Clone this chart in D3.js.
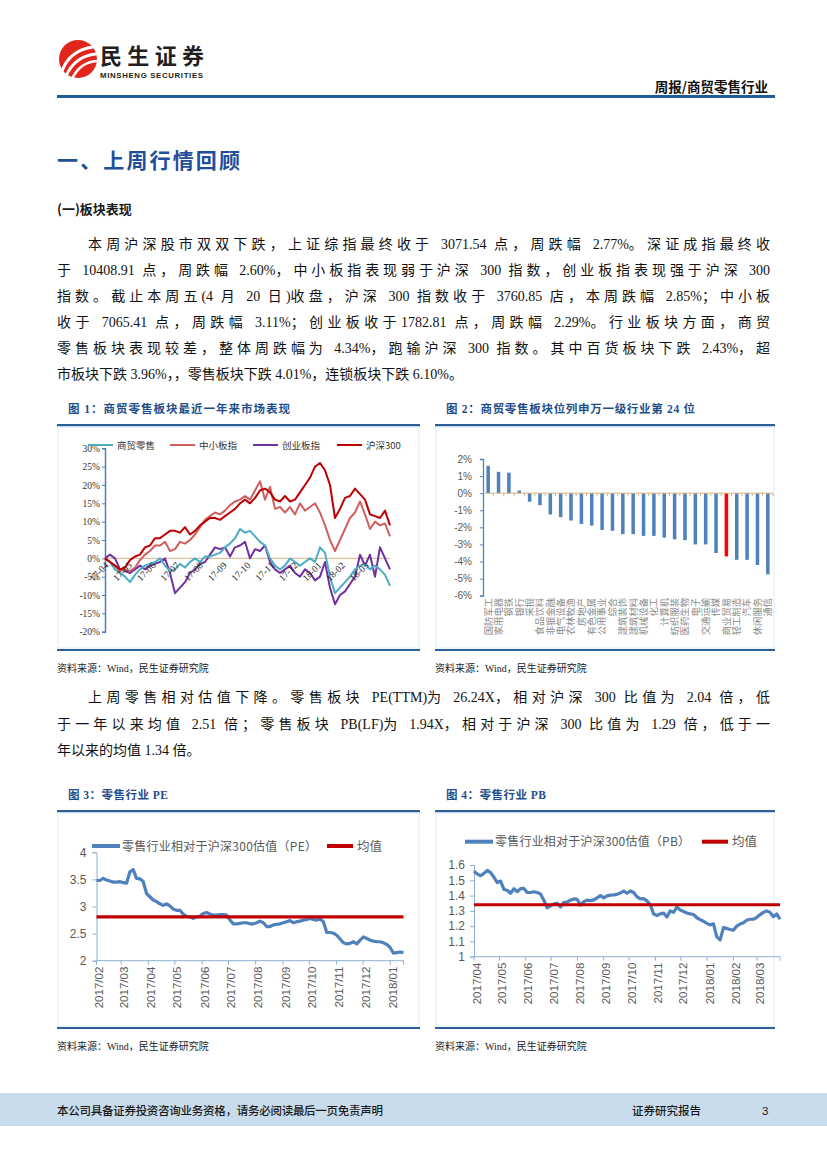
<!DOCTYPE html>
<html><head><meta charset="utf-8">
<script src="https://cdn.jsdelivr.net/npm/d3@7/dist/d3.min.js"></script>
<style>body{margin:0;background:#fff}svg{display:block}</style>
</head><body><svg id="page" width="827" height="1169"></svg>
<script>
// ---------------- DATA ----------------
const fig1Months = ["17-04","17-05","17-06","17-07","17-08","17-09","17-10","17-11","17-12","18-01","18-02","18-03"];
const fig1Names = ["商贸零售","中小板指","创业板指","沪深300"];
const retail  = [0,-1,-3,-4,-5,-6.5,-4.5,-3,-2,-1.5,-1,0,-2,-3.5,-3,-1.5,-2.5,-1,0,-1,0.5,0.5,1,1.5,3,4,5.5,8,7,7.5,6,4.5,3.5,0,-2,-3,-2,0,-1,-2,-1,0,-1,3,1.5,-5,-9.5,-8,-6.5,-5,-3,-2,-1.5,-3,-2,-3,-4.5,-7.5];
const smeIdx  = [0,-1,-2,-3.5,-3,-3.5,-2.5,-0.5,1,2,3.5,3.5,4.5,2,2.5,4.5,4,5,6.5,8.5,10.5,11.5,12.5,12,13,14.5,15.5,16,17,16,18.5,21,16,19.5,13.5,14,12.5,14,12,15,13,14,15,12.5,9,5,2,5,8,11,12.5,15.5,12,8,10,9,9.5,6];
const chinext = [0,1,0,-3,-3.5,-4,-3,-2,-3,-2,-1.5,-1,0,-4,-9.5,-8,-6.5,-4,-3,-1.5,-1,1,3,2.5,3,0.5,3,3.5,4.5,0,2.5,2,3.5,-1,-3,-4,-3,-2,-4,-5,-3,-4,-6,-5,-1,-8,-12.5,-10,-9,-7,-5,1,-2,1,-5,3,0,-3];
const hs300   = [0,-1,-2,-3,-2.5,-0.5,0.5,1,3,3.5,5.5,5.5,6.5,7.5,7.5,7,8.5,6.5,7.5,9,10,11,11,10.5,11.5,12.5,13.5,15,16,15,16.5,18.5,19,18,16,15.5,17,15.5,16,18,20,22,25,26,24,20,11,13.5,16.5,17,19,17.5,16,12,11.5,11,13,9];
const fig1Ticks = [30,25,20,15,10,5,0,-5,-10,-15,-20];

const fig2Cats = ["国防军工","家用电器","钢铁","银行","采掘","食品饮料","非银金融","电气设备","农林牧渔","房地产","有色金属","公用事业","综合","建筑装饰","建筑材料","机械设备","化工","计算机","纺织服装","医药生物","电子","交通运输","传媒","商业贸易","轻工制造","汽车","休闲服务","通信"];
const fig2Vals = [1.6,1.25,1.2,0.15,-0.5,-0.7,-1.25,-1.4,-1.6,-1.8,-1.9,-2.15,-2.2,-2.4,-2.4,-2.5,-2.5,-2.6,-2.7,-2.75,-3.0,-3.0,-3.5,-3.7,-3.9,-3.9,-4.2,-4.75];
const fig2Highlight = "商业贸易";
const fig2Ticks = [2,1,0,-1,-2,-3,-4,-5,-6];

const peValues = [3.48,3.48,3.52,3.49,3.47,3.45,3.45,3.46,3.44,3.43,3.64,3.68,3.52,3.51,3.46,3.24,3.18,3.12,3.09,3.05,3.02,3.05,3.01,2.95,2.93,2.93,2.86,2.82,2.81,2.78,2.81,2.82,2.87,2.89,2.86,2.84,2.84,2.85,2.85,2.84,2.75,2.68,2.68,2.69,2.70,2.70,2.68,2.68,2.70,2.73,2.70,2.63,2.63,2.66,2.67,2.68,2.70,2.72,2.74,2.70,2.72,2.73,2.75,2.76,2.78,2.76,2.75,2.77,2.72,2.52,2.52,2.51,2.47,2.40,2.33,2.31,2.32,2.35,2.31,2.38,2.44,2.41,2.38,2.36,2.35,2.35,2.33,2.30,2.24,2.14,2.15,2.16,2.15];
const peMean = 2.81;
const peTicks = [2,2.5,3,3.5,4];
const peMonths = ["2017/02","2017/03","2017/04","2017/05","2017/06","2017/07","2017/08","2017/09","2017/10","2017/11","2017/12","2018/01"];

const pbValues = [1.56,1.54,1.53,1.545,1.565,1.55,1.52,1.485,1.495,1.44,1.435,1.415,1.445,1.425,1.445,1.447,1.42,1.42,1.425,1.42,1.41,1.37,1.32,1.333,1.345,1.35,1.325,1.355,1.358,1.37,1.378,1.375,1.338,1.36,1.37,1.366,1.372,1.385,1.40,1.385,1.398,1.403,1.405,1.408,1.416,1.43,1.415,1.43,1.42,1.392,1.378,1.38,1.365,1.34,1.28,1.27,1.28,1.285,1.26,1.30,1.29,1.325,1.305,1.296,1.286,1.28,1.276,1.255,1.243,1.232,1.218,1.208,1.215,1.13,1.11,1.19,1.185,1.178,1.174,1.20,1.214,1.222,1.238,1.245,1.245,1.258,1.275,1.29,1.30,1.29,1.262,1.28,1.245];
const pbMean = 1.34;
const pbTicks = [1,1.1,1.2,1.3,1.4,1.5,1.6];
const pbMonths = ["2017/04","2017/05","2017/06","2017/07","2017/08","2017/09","2017/10","2017/11","2017/12","2018/01","2018/02","2018/03"];

// ---------------- PAGE ----------------
const svg = d3.select("#page");
const CJK = "'Noto Sans CJK SC', sans-serif";
const SERIF = "'Liberation Serif','Noto Sans CJK SC',serif";
const SANS = "'Liberation Sans','Noto Sans CJK SC',sans-serif";
const BLUE = "#1F4E8C";

// header logo
const logo = svg.append("g");
logo.append("circle").attr("cx",78).attr("cy",59).attr("r",19).attr("fill","#E1251B");
[["M62 71 Q70 50 93 47",3.2],["M66 76 Q75 56 96 54",3],["M72 79 Q80 62 97 61",2.6]].forEach(p=>
  logo.append("path").attr("d",p[0]).attr("fill","none").attr("stroke","#fff").attr("stroke-width",p[1]).attr("stroke-linecap","round"));
svg.append("text").attr("x",100).attr("y",64).attr("font-family",CJK).attr("font-weight",700).attr("font-size",22).attr("fill","#231F20").attr("textLength",104).text("民生证券");
svg.append("text").attr("x",100).attr("y",78).attr("font-family","'Liberation Sans',sans-serif").attr("font-weight",700).attr("font-size",7.8).attr("fill","#231F20").attr("textLength",103).text("MINSHENG SECURITIES");
svg.append("text").attr("x",768).attr("y",92).attr("text-anchor","end").attr("font-family",CJK).attr("font-weight",700).attr("font-size",13.5).attr("fill","#111").text("周报/商贸零售行业");
svg.append("rect").attr("x",57).attr("y",95).attr("width",718).attr("height",3).attr("fill","#1F5C99");

// headings
svg.append("text").attr("x",57).attr("y",168).attr("font-family",CJK).attr("font-weight",700).attr("font-size",21).attr("fill","#1F4E9A").attr("textLength",183).text("一、上周行情回顾");
svg.append("text").attr("x",57).attr("y",214).attr("font-family",CJK).attr("font-weight",700).attr("font-size",13).attr("fill","#1a1a1a").text("(一)板块表现");

// paragraph lines: justified by widening CJK glyphs and spaces only
const isSpread = ch => ch===" " || /[\u3000-\u303f\u4e00-\u9fff\uff00-\uffef]/.test(ch);
function para(lines, x0, y0, step){
  lines.forEach((l,i)=>{
    const sx = i===0? x0+31 : x0;
    const t = svg.append("text").attr("x", sx).attr("y", y0+i*step)
      .attr("font-family",SERIF).attr("font-size",14).attr("fill","#111");
    const runs = [];
    for(const ch of l.t){
      const c = isSpread(ch);
      if(runs.length && runs[runs.length-1].c===c) runs[runs.length-1].s += ch;
      else runs.push({c, s:ch});
    }
    const spans = runs.map(r=> t.append("tspan").text(r.s.replace(/ /g,"\u00A0")));
    if(l.j){
      const natural = t.node().getComputedTextLength();
      const chars = [...l.t];
      let n = chars.filter(isSpread).length;
      if(isSpread(chars[chars.length-1])) n -= 1;
      const extra = Math.max(0,(770 - sx - natural)/Math.max(1,n));
      runs.forEach((r,k)=>{ if(r.c) spans[k].attr("letter-spacing", extra); });
    }
  });
}
para([
 {t:"本周沪深股市双双下跌，上证综指最终收于 3071.54 点，周跌幅 2.77%。深证成指最终收",j:1},
 {t:"于 10408.91 点，周跌幅 2.60%，中小板指表现弱于沪深 300 指数，创业板指表现强于沪深 300",j:1},
 {t:"指数。截止本周五(4 月 20 日)收盘，沪深 300 指数收于 3760.85 店，本周跌幅 2.85%；中小板",j:1},
 {t:"收于 7065.41 点，周跌幅 3.11%；创业板收于1782.81 点，周跌幅 2.29%。行业板块方面，商贸",j:1},
 {t:"零售板块表现较差，整体周跌幅为 4.34%，跑输沪深 300 指数。其中百货板块下跌 2.43%，超",j:1},
 {t:"市板块下跌 3.96%，，零售板块下跌 4.01%，连锁板块下跌 6.10%。",j:0}
],57,249,26);
para([
 {t:"上周零售相对估值下降。零售板块 PE(TTM)为 26.24X，相对沪深 300 比值为 2.04 倍，低",j:1},
 {t:"于一年以来均值 2.51 倍；零售板块 PB(LF)为 1.94X，相对于沪深 300 比值为 1.29 倍，低于一",j:1},
 {t:"年以来的均值 1.34 倍。",j:0}
],57,702,26.5);

// figure frames
function frame(x0,x1,titleY,title,tlen,topRule,botRule,srcY){
  svg.append("text").attr("x",x0+11).attr("y",titleY).attr("font-family",SERIF).attr("font-weight",700).attr("font-size",11.5).attr("fill",BLUE).attr("textLength",tlen).text(title);
  svg.append("rect").attr("x",x0+1).attr("y",topRule+3).attr("width",x1-x0-2).attr("height",botRule-topRule-4).attr("fill","none").attr("stroke","#E3F4FA").attr("stroke-width",1.5);
  svg.append("rect").attr("x",x0).attr("y",topRule).attr("width",x1-x0).attr("height",2.2).attr("fill","#2E5E97");
  svg.append("rect").attr("x",x0).attr("y",botRule).attr("width",x1-x0).attr("height",2).attr("fill","#2E5E97");
  svg.append("text").attr("x",x0).attr("y",srcY).attr("font-family",SERIF).attr("font-size",10).attr("fill","#222").text("资料来源：Wind，民生证券研究院");
}
frame(57,420,413,"图 1：商贸零售板块最近一年来市场表现",222,424,649,672);
frame(435,775,413,"图 2：商贸零售板块位列申万一级行业第 24 位",249,424,649,672);
frame(57,420,799,"图 3：零售行业 PE",100,810,1027,1050);
frame(435,775,799,"图 4：零售行业 PB",100,810,1027,1050);

// ---------------- FIG 1 ----------------
{
  const g = svg.append("g");
  const y = d3.scaleLinear().domain([-20,30]).range([631.7,448.3]);
  const x = d3.scaleLinear().domain([0,hs300.length-1]).range([105,390]);
  const xm = d3.scaleLinear().domain([0,12]).range([105,389]);
  g.append("line").attr("x1",105).attr("x2",390).attr("y1",y(0)).attr("y2",y(0)).attr("stroke","#D4B483").attr("stroke-width",1);
  const ya = d3.axisLeft(y).tickValues(fig1Ticks).tickSize(3).tickFormat(d=>d+"%");
  const yg = g.append("g").attr("transform","translate(105,0)").call(ya);
  yg.select(".domain").attr("stroke","#4F81BD").attr("stroke-width",1.5);
  yg.selectAll(".tick line").attr("stroke","#4F81BD");
  yg.selectAll("text").attr("font-family",SERIF).attr("font-size",9.5).attr("fill","#333").attr("x",-5);
  const series = [
    {v:chinext, c:"#7030A0"},
    {v:retail,  c:"#4BACC6"},
    {v:smeIdx,  c:"#D0605E"},
    {v:hs300,   c:"#C00000"}
  ];
  const line = d3.line().x((d,i)=>x(i)).y(d=>y(d));
  series.forEach(s=> g.append("path").attr("d",line(s.v)).attr("fill","none").attr("stroke",s.c).attr("stroke-width",2).attr("stroke-linejoin","round"));
  fig1Months.forEach((m,i)=>{
    g.append("text").attr("transform",`translate(${xm(i)+4},${566}) rotate(-45)`).attr("text-anchor","end")
      .attr("font-family",SERIF).attr("font-size",9.5).attr("fill","#222").text(m);
  });
  const legCols = ["#4BACC6","#D0605E","#7030A0","#C00000"];
  const legX = [88,170,253,337];
  fig1Names.forEach((n,i)=>{
    g.append("line").attr("x1",legX[i]).attr("x2",legX[i]+25).attr("y1",445).attr("y2",445).attr("stroke",legCols[i]).attr("stroke-width",2);
    g.append("text").attr("x",legX[i]+29).attr("y",448.5).attr("font-family",CJK).attr("font-size",9.5).attr("fill","#333").text(n);
  });
}

// ---------------- FIG 2 ----------------
{
  const g = svg.append("g");
  const x = d3.scaleBand().domain(fig2Cats).range([483,773]).padding(0);
  const y = d3.scaleLinear().domain([-6,2]).range([595.7,459]);
  const bw = x.bandwidth()*0.34;
  g.selectAll("rect.bar").data(fig2Cats).join("rect")
    .attr("x",(d)=>x(d)+x.bandwidth()/2-bw/2)
    .attr("width",bw)
    .attr("y",(d,i)=>y(Math.max(0,fig2Vals[i])))
    .attr("height",(d,i)=>Math.abs(y(fig2Vals[i])-y(0)))
    .attr("fill",d=>d===fig2Highlight?"#FF0000":"#4F81BD");
  const ya = d3.axisLeft(y).tickValues(fig2Ticks).tickSize(3).tickFormat(d=>d+"%");
  const yg = g.append("g").attr("transform","translate(483,0)").call(ya);
  yg.select(".domain").attr("stroke","#4F81BD").attr("stroke-width",1.3);
  yg.selectAll(".tick line").attr("stroke","#4F81BD");
  yg.selectAll("text").attr("font-family",SANS).attr("font-size",10).attr("fill","#595959").attr("x",-11);
  g.append("line").attr("x1",483).attr("x2",773).attr("y1",y(0)).attr("y2",y(0)).attr("stroke","#D4B483").attr("stroke-width",1);
  fig2Cats.forEach((c,i)=>{
    g.append("line").attr("x1",x(c)+x.bandwidth()).attr("x2",x(c)+x.bandwidth()).attr("y1",y(0)).attr("y2",y(0)+3).attr("stroke","#D4B483");
    g.append("text").attr("transform",`translate(${x(c)+x.bandwidth()/2},598) rotate(-90)`)
      .attr("text-anchor","end").attr("dy","0.36em").attr("font-family",CJK).attr("font-size",9.3).attr("fill","#8A8A8A").text(c);
  });
}

// ---------------- FIG 3 / FIG 4 ----------------
function valChart(o){
  const g = svg.append("g");
  const y = d3.scaleLinear().domain(o.yDom).range(o.yRange);
  const xi = d3.scaleLinear().domain([0,o.values.length-1]).range(o.xRange);
  const xt = d3.scaleTime().domain(o.tDom).range([o.xRange[0],o.xRange[1]]);
  const axisC = "#8EAFD6";
  const ya = d3.axisLeft(y).tickValues(o.ticks).tickSize(4).tickFormat(d=>String(d));
  const yg = g.append("g").attr("transform",`translate(${o.xRange[0]},0)`).call(ya);
  yg.select(".domain").attr("stroke",axisC).attr("stroke-width",1);
  yg.selectAll(".tick line").attr("stroke",axisC);
  yg.selectAll("text").attr("font-family",SANS).attr("font-size",12).attr("fill","#595959").attr("x",-o.labelGap);
  g.append("line").attr("x1",o.xRange[0]).attr("x2",o.xRange[1]).attr("y1",o.yRange[0]).attr("y2",o.yRange[0]).attr("stroke",axisC);
  const months = xt.ticks(d3.timeMonth.every(1));
  months.forEach((m,i)=>{
    const px = xt(m);
    g.append("line").attr("x1",px).attr("x2",px).attr("y1",o.yRange[0]).attr("y2",o.yRange[0]+4).attr("stroke",axisC);
    if(i<o.months.length)
      g.append("text").attr("transform",`translate(${px+2.5},${o.yRange[0]+6}) rotate(-90)`).attr("text-anchor","end").attr("dy","0.36em")
       .attr("font-family",SANS).attr("font-size",11.5).attr("fill","#595959").text(o.months[i]);
  });
  g.append("line").attr("x1",o.xRange[1]).attr("x2",o.xRange[1]).attr("y1",o.yRange[0]).attr("y2",o.yRange[0]+4).attr("stroke",axisC);
  const line = d3.line().x((d,i)=>xi(i)).y(d=>y(d));
  g.append("path").attr("d",line(o.values)).attr("fill","none").attr("stroke","#4F81BD").attr("stroke-width",3.2).attr("stroke-linejoin","round");
  g.append("line").attr("x1",o.xRange[0]).attr("x2",o.xRange[1]).attr("y1",y(o.mean)).attr("y2",y(o.mean)).attr("stroke","#C00000").attr("stroke-width",3.2);
  g.append("line").attr("x1",o.leg[0]).attr("x2",o.leg[0]+28).attr("y1",o.legY).attr("y2",o.legY).attr("stroke","#4F81BD").attr("stroke-width",4);
  g.append("text").attr("x",o.leg[0]+30).attr("y",o.legY+4.5).attr("font-family",CJK).attr("font-size",12).attr("fill","#595959").attr("textLength",o.legLen).text(o.legText);
  g.append("line").attr("x1",o.leg[1]).attr("x2",o.leg[1]+26).attr("y1",o.legY).attr("y2",o.legY).attr("stroke","#C00000").attr("stroke-width",4);
  g.append("text").attr("x",o.leg[1]+30).attr("y",o.legY+4.5).attr("font-family",CJK).attr("font-size",12.5).attr("fill","#595959").text("均值");
}
valChart({values:peValues, mean:peMean, ticks:peTicks, months:peMonths,
  yDom:[2,4], yRange:[960.7,852.3], xRange:[96.5,403.5],
  tDom:[new Date(2017,1,1), new Date(2018,0,16)], labelGap:10,
  leg:[92,327], legY:846, legText:"零售行业相对于沪深300估值（PE）", legLen:195});
valChart({values:pbValues, mean:pbMean, ticks:pbTicks, months:pbMonths,
  yDom:[1,1.6], yRange:[956.7,865], xRange:[474,780],
  tDom:[new Date(2017,3,1), new Date(2018,2,28)], labelGap:9,
  leg:[465,702], legY:841.7, legText:"零售行业相对于沪深300估值（PB）", legLen:195});

// footer
svg.append("rect").attr("x",0).attr("y",1093).attr("width",827).attr("height",33).attr("fill","#C9DCEB");
svg.append("text").attr("x",57).attr("y",1115).attr("font-family",CJK).attr("font-weight",500).attr("font-size",11.5).attr("fill","#1a1a1a").attr("textLength",326).text("本公司具备证券投资咨询业务资格，请务必阅读最后一页免责声明");
svg.append("text").attr("x",632).attr("y",1115).attr("font-family",CJK).attr("font-weight",500).attr("font-size",11.5).attr("fill","#1a1a1a").text("证券研究报告");
svg.append("text").attr("x",762).attr("y",1115).attr("font-family",SANS).attr("font-size",11.5).attr("fill","#1a1a1a").text("3");
</script></body></html>
